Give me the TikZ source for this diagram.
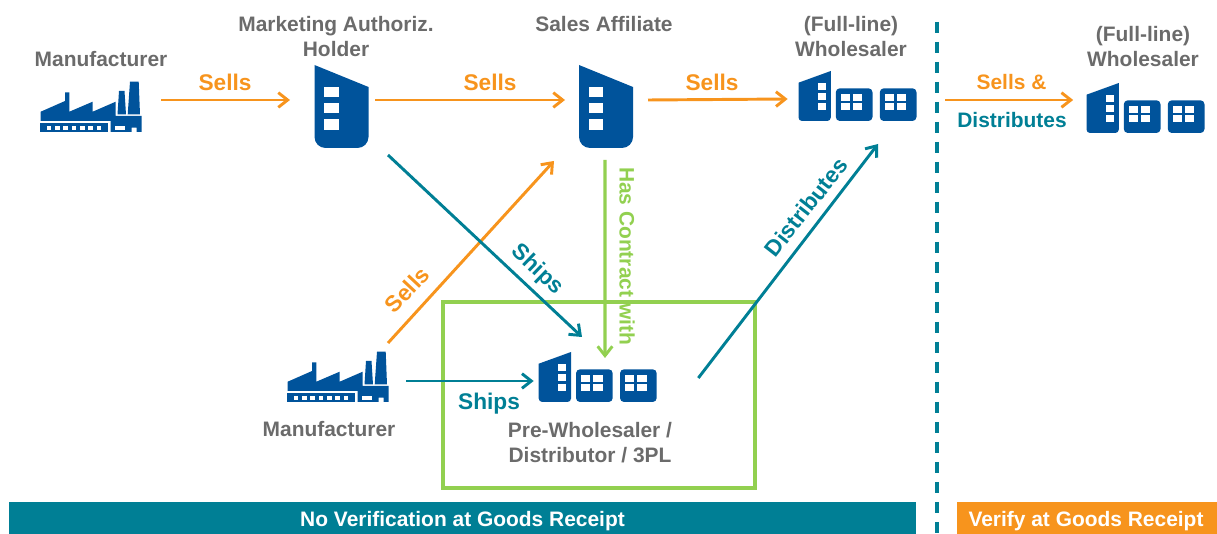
\documentclass[tikz,border=0pt]{standalone}
\usepackage{fontspec}
\setmainfont{Liberation Sans}
\usetikzlibrary{arrows.meta,calc}
\definecolor{navy}{HTML}{00539B}
\definecolor{tealc}{HTML}{007F95}
\definecolor{orangec}{HTML}{F7941D}
\definecolor{greenc}{HTML}{92D050}
\definecolor{grayc}{HTML}{6B6B6B}
\newcommand{\fs}[1]{\fontsize{#1pt}{#1pt}\selectfont\bfseries}
\tikzset{
 x=0.75pt,y=-0.75pt,
 lbl/.style={text=grayc,font=\fs{15.7},align=center,inner sep=0pt},
 arrowlab/.style={font=\fs{17},inner sep=0pt},
 conn/.style={line width=2.2pt,-{Straight Barb[length=7pt,width=11pt,line width=2.2pt]}},
 sellc/.style={conn,draw=orangec},
 shipc/.style={conn,draw=tealc},
 contractc/.style={conn,draw=greenc,line width=2.4pt},
 anchorbox/.style={inner sep=0pt,outer sep=0pt},
 pics/factory/.style={code={
  \fill[navy] (0.7,-11)--(0.7,-20.3)--(25,-31)--(25,-39.7)--(29.3,-39.7)--(29.3,-20.3)--(52.7,-30.3)--(52.7,-20.3)--(75.7,-30.3)--(75.7,-16)--(101.7,-16)--(101.7,0)--(96.7,0)--(96.7,-4.3)--(91.7,-4.3)--(91.7,0)--(70.7,0)--(70.7,-11)--cycle;
  \fill[navy] (77.5,-17.5)--(79,-41)--(84.5,-41)--(86,-17.5)--cycle;
  \fill[navy] (87.7,-17.5)--(90,-50.3)--(98.7,-50.3)--(100,-17.5)--cycle;
  \fill[navy] (0,-8.7)rectangle(67.5,0);
  \fill[white] (75,-6)rectangle(85,-1.7);
  \foreach \i in {0,...,6}{\fill[white] ({6.7+\i*8.3},-6)rectangle ({11.4+\i*8.3},-1.7);}
 }},
 pics/tower/.style={code={
  \fill[navy] (0,0)--(54,22)--(54,72) arc[start angle=0,end angle=90,radius=11]--(11,83) arc[start angle=90,end angle=180,radius=11]--cycle;
  \fill[white] (9.7,21.7)rectangle(24.4,32.3);
  \fill[white] (9.7,38.3)rectangle(24.4,48.3);
  \fill[white] (9.7,54)rectangle(24.4,65);
 }},
 pics/smallblock/.style={code={
  \fill[navy,rounded corners=3pt] (0,0)rectangle(36.7,32.7);
  \foreach \a in {4.7,17.3}\foreach \b in {5.7,15}{\fill[white] (\a,\b)rectangle(\a+9.3,\b+6.9);}
 }},
 pics/campus/.style={code={
  \fill[navy] (0,11.7)--(32.3,0)--(32.3,46.5) arc[start angle=0,end angle=90,radius=3.5]--(3.5,50) arc[start angle=90,end angle=180,radius=3.5]--cycle;
  \foreach \b in {12.3,22.3,32.3}{\fill[white] (19,\b)rectangle(27.7,\b+6.7);}
  \pic at (37.3,17.3){smallblock};
  \pic at (81.3,17.3){smallblock};
 }},
}
\begin{document}
\begin{tikzpicture}
\useasboundingbox (0,0) rectangle (1217,534);
% icon anchors
\node[anchorbox,minimum width=76.5pt,minimum height=37.5pt] (mfrA) at (91,107) {};
\node[anchorbox,minimum width=40.5pt,minimum height=62.25pt] (mah) at (341.5,106.5) {};
\node[anchorbox,minimum width=40.5pt,minimum height=62.25pt] (sa) at (606,106.5) {};
\node[anchorbox,minimum width=89pt,minimum height=37.5pt] (wsA) at (857.5,96) {};
\node[anchorbox,minimum width=89pt,minimum height=37.5pt] (wsB) at (1145.5,108) {};
\node[anchorbox,minimum width=89pt,minimum height=37.5pt] (pre) at (597.7,377) {};
\node[anchorbox,minimum width=76.5pt,minimum height=37.5pt] (mfrB) at (338,377) {};
% icons
\pic at (40,132){factory};
\pic at (287,402){factory};
\pic at (314.5,65){tower};
\pic at (579,65){tower};
\pic at (538.7,352){campus};
\pic at (798.5,71){campus};
\pic at (1086.5,83){campus};
% frame and bars
\node[draw=greenc,line width=2.3pt,minimum width=234pt,minimum height=139.5pt,inner sep=0pt] (box) at (599,395) {};
\node[fill=tealc,minimum width=680.25pt,minimum height=24pt,inner sep=0pt] (barA) at (462.5,518) {};
\node[fill=orangec,minimum width=195pt,minimum height=24pt,inner sep=0pt] (barB) at (1087,518) {};
\node[text=white,font=\fs{15.7},inner sep=0pt] (barAt) at (462.5,521.5) {No Verification at Goods Receipt};
\node[text=white,font=\fs{15.7},inner sep=0pt] (barBt) at (1086,521.5) {Verify at Goods Receipt};
\coordinate (dashTop) at (937,22);
\coordinate (dashEnd) at (937,534);
\draw[tealc,line width=2.5pt,dash pattern=on 8.25pt off 6.75pt] (dashTop)--(dashEnd);
% labels
\node[lbl] (lA) at (101,59) {Manufacturer};
\node[lbl] (lB) at (336,36.5) {Marketing Authoriz.\\[3.2pt]Holder};
\node[lbl] (lC) at (604,24) {Sales Affiliate};
\node[lbl] (lD) at (851,36.5) {(Full-line)\\[3.2pt]Wholesaler};
\node[lbl] (lE) at (1143,46.5) {(Full-line)\\[3.2pt]Wholesaler};
\node[lbl] (lF) at (329,429) {Manufacturer};
\node[lbl] (lG) at (590,442.5) {Pre-Wholesaler /\\[3.2pt]Distributor / 3PL};
% connectors
\draw[sellc] ([shift={(19,-7)}]mfrA.east)--([shift={(-24.5,-6.5)}]mah.west);
\draw[sellc] ([shift={(6.5,-6.5)}]mah.east)--([shift={(-14,-6.5)}]sa.west);
\draw[sellc] ([shift={(15,-6.5)}]sa.east)--([shift={(-10.5,3)}]wsA.west);
\coordinate (sdFrom) at (945,100);
\draw[sellc] (sdFrom)--([shift={(-13,-8)}]wsB.west);
\draw[sellc] ([shift={(50,-9)}]mfrB.north)--([shift={(-52,13)}]sa.south);
\draw[shipc] ([shift={(46.5,7)}]mah.south)--([shift={(-15.7,-15)}]pre.north);
\draw[shipc] ([shift={(17.3,4)}]mfrB.east)--([shift={(-4.7,4)}]pre.west);
\draw[shipc] ([shift={(41.3,1)}]pre.east)--([shift={(20.5,23)}]wsA.south);
\draw[contractc] ([shift={(-1,12)}]sa.south)--([shift={(7.3,6)}]pre.north);
% connector labels
\node[arrowlab,text=orangec] (t1) at (225,82) {Sells};
\node[arrowlab,text=orangec] (t2) at (490,82) {Sells};
\node[arrowlab,text=orangec] (t3) at (712,82) {Sells};
\node[arrowlab,text=orangec,font=\fs{15.7}] (t4) at (1011.5,82) {Sells \&};
\node[arrowlab,text=tealc,font=\fs{15.7}] (t5) at (1012,120) {Distributes};
\node[arrowlab,text=orangec,rotate=47] (t6) at (407,290) {Sells};
\node[arrowlab,text=tealc,rotate=-44] (t7) at (537,270) {Ships};
\node[arrowlab,text=tealc] (t8) at (489,404) {Ships};
\node[arrowlab,text=tealc,rotate=52] (t9) at (806,207) {Distributes};
\node[arrowlab,text=greenc,font=\fs{15.7},rotate=-90] (t10) at (627,256) {Has Contract with};
\end{tikzpicture}
\end{document}
